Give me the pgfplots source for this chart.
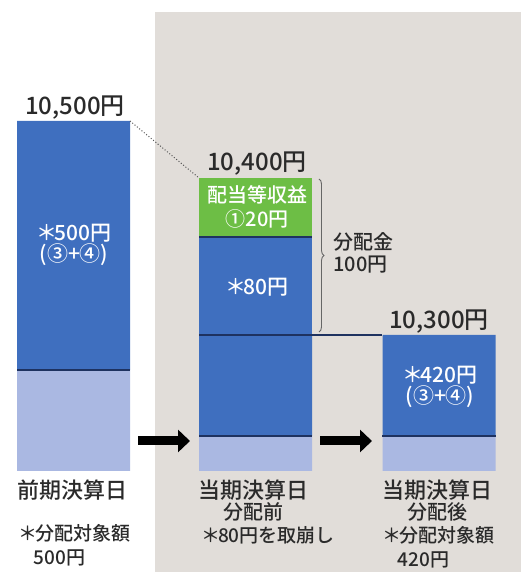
\documentclass[border=0pt]{standalone}
\usepackage{pgfplots}
\pgfplotsset{compat=1.18}
\usepackage{fontspec}
\setmainfont{Noto Sans CJK JP}[UprightFont=* Medium]
\usetikzlibrary{arrows.meta,decorations.pathreplacing}

\definecolor{BgGray}{HTML}{E1DDD9}
\definecolor{DarkBlue}{HTML}{3F6FBF}
\definecolor{LightBlue}{HTML}{AAB8E2}
\definecolor{Green}{HTML}{6DBE45}
\definecolor{Navy}{HTML}{1E3260}
\definecolor{Txt}{HTML}{2A2A2A}

\newcommand{\kome}{＊\kern-0.12em}

\pgfplotsset{frame/.style={
    scale only axis,
    width=521pt, height=572pt,
    xmin=0, xmax=521, ymin=-101, ymax=471,
    hide axis, clip=false}}

\begin{document}
\begin{tikzpicture}
  % background panel of the current period
  \begin{axis}[frame]
    \path (rel axis cs:0,0) rectangle (rel axis cs:1,1);
    \fill[BgGray] (axis cs:155,-101) rectangle (axis cs:521,459);
  \end{axis}

  % the bars
  \begin{axis}[frame, ybar stacked, bar width=113]
    % base part
    \addplot[fill=LightBlue, draw=none] coordinates {(73.5,101) (255.5,35) (439,35)};
    % distributable part
    \addplot[fill=DarkBlue, draw=none] coordinates {(73.5,249) (255.5,101) (439,101)};
    % drawn-down 80
    \addplot[fill=DarkBlue, draw=none] coordinates {(73.5,0) (255.5,98) (439,0)};
    % dividend income 20
    \addplot[fill=Green, draw=none] coordinates {(73.5,0) (255.5,59) (439,0)};
  \end{axis}

  % annotations on top
  \begin{axis}[frame]
    % segment boundaries
    \draw[Navy, line width=1.3pt] (axis cs:17,101) -- (axis cs:130,101);
    \draw[Navy, line width=1.3pt] (axis cs:199,35) -- (axis cs:312,35);
    \draw[Navy, line width=1.3pt] (axis cs:199,136) -- (axis cs:382,136);
    \draw[Navy, line width=1.3pt] (axis cs:199,234) -- (axis cs:312,234);
    \draw[Navy, line width=1.3pt] (axis cs:382,35) -- (axis cs:496,35);

    % dotted link between tops
    \draw[Txt!80, dotted, line width=1pt] (axis cs:130,350) -- (axis cs:199,293);

    % brace
    \draw[gray!80!black, line width=0.9pt, decorate, decoration={brace, amplitude=5pt}]
      (axis cs:319,292) -- (axis cs:319,139);
    \node[font=\fontsize{20}{22}\selectfont, text=Txt, anchor=west, align=left]
      at (axis cs:330,218) {分配金\\100円};

    % arrows
    \draw[black, line width=9pt, -{Triangle[length=12pt, width=22pt]}]
      (axis cs:138,30) -- (axis cs:190,30);
    \draw[black, line width=9pt, -{Triangle[length=12pt, width=22pt]}]
      (axis cs:320,30) -- (axis cs:372,30);

    % totals
    \node[font=\fontsize{24}{26}\selectfont, text=Txt] at (axis cs:75,363) {10,500円};
    \node[font=\fontsize{24}{26}\selectfont, text=Txt] at (axis cs:257,307) {10,400円};
    \node[font=\fontsize{24}{26}\selectfont, text=Txt] at (axis cs:439,149) {10,300円};

    % labels inside bars
    \node[font=\fontsize{21}{21}\selectfont, text=white, align=center]
      at (axis cs:74,226) {\kome{}500円\\(③+④)};
    \node[font=\fontsize{20}{24}\selectfont, text=white, align=center]
      at (axis cs:257,264) {配当等収益\\①20円};
    \node[font=\fontsize{21}{22}\selectfont, text=white] at (axis cs:257,184) {\kome{}80円};
    \node[font=\fontsize{21}{21}\selectfont, text=white, align=center]
      at (axis cs:440,84) {\kome{}420円\\(③+④)};

    % category labels
    \node[font=\fontsize{22}{23}\selectfont, text=Txt] at (axis cs:72,-19) {前期決算日};
    \node[font=\fontsize{19}{24}\selectfont, text=Txt, align=left, anchor=north west]
      at (axis cs:15,-50) {\kome{}分配対象額\\\hspace*{0.8em}500円};
    \node[font=\fontsize{22}{23}\selectfont, text=Txt] at (axis cs:253,-19) {当期決算日};
    \node[font=\fontsize{20}{22}\selectfont, text=Txt] at (axis cs:253,-41) {分配前};
    \node[font=\fontsize{19}{24}\selectfont, text=Txt] at (axis cs:268,-64) {\kome{}80円を取崩し};
    \node[font=\fontsize{22}{23}\selectfont, text=Txt] at (axis cs:437,-19) {当期決算日};
    \node[font=\fontsize{20}{22}\selectfont, text=Txt] at (axis cs:437,-41) {分配後};
    \node[font=\fontsize{19}{24}\selectfont, text=Txt, align=left, anchor=north west]
      at (axis cs:379,-52) {\kome{}分配対象額\\\hspace*{0.8em}420円};
  \end{axis}
\end{tikzpicture}
\end{document}
